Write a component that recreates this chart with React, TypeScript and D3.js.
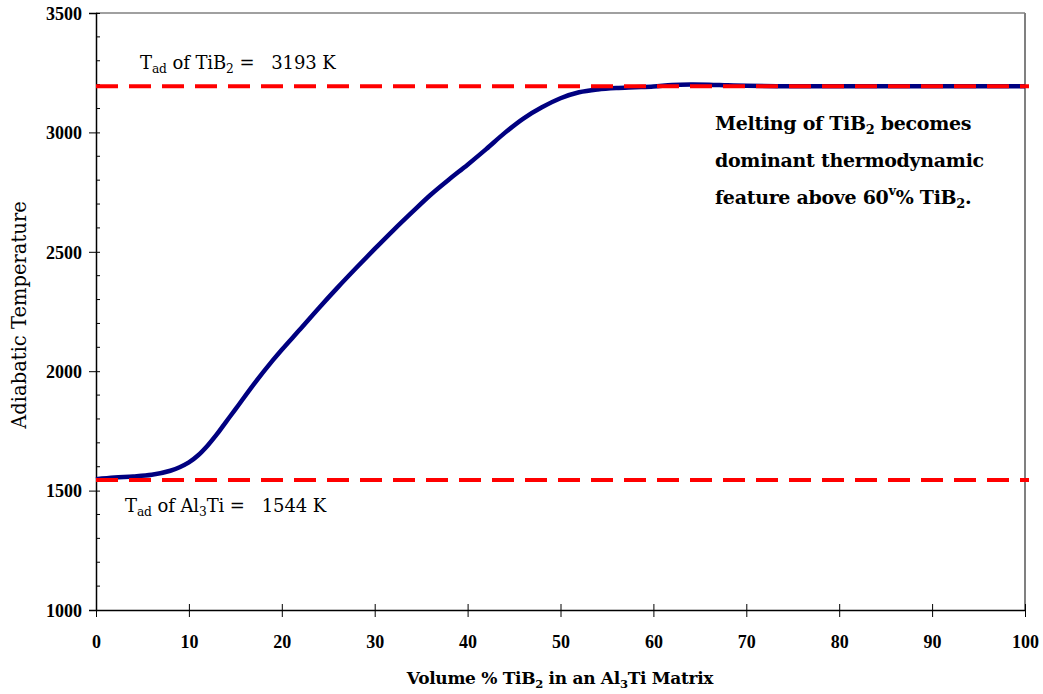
import React, { useEffect, useRef } from 'react';
import * as d3 from 'd3';

// volume % TiB2 vs adiabatic temperature (K)
const volumePct = [0, 2, 4, 6, 8, 9, 10, 11, 12, 13, 14, 15, 17, 19, 20, 22, 24, 26, 28, 30, 32, 34, 36, 38, 40, 42, 44, 46, 48, 50, 52, 54, 56, 58, 60, 62, 64, 66, 68, 70, 75, 80, 85, 90, 95, 100];
const adiabaticTemp = [1548, 1555, 1559, 1566, 1583, 1598, 1618, 1648, 1688, 1735, 1788, 1840, 1946, 2044, 2090, 2177, 2265, 2350, 2432, 2512, 2590, 2665, 2738, 2803, 2865, 2930, 2998, 3058, 3105, 3143, 3168, 3180, 3186, 3189, 3192, 3199, 3201, 3200, 3197, 3195, 3193, 3193, 3193, 3193, 3193, 3193];

const xTicks = [0, 10, 20, 30, 40, 50, 60, 70, 80, 90, 100];
const yTicks = [1000, 1500, 2000, 2500, 3000, 3500];
const yMinorTicks = d3.range(1000, 3501, 100).filter((v) => v % 500 !== 0);

const tadTiB2 = 3193;
const tadAl3Ti = 1544;

const TICK_FONT = '"Liberation Serif", "Times New Roman", serif';
const FONT = '"DejaVu Serif", serif';

function AdiabaticChart() {
    const ref = useRef<SVGSVGElement>(null);
    const width = 1043;
    const height = 694;
    const margin = { top: 13, right: 18, bottom: 84, left: 96 };

    useEffect(() => {
        const svg = d3.select(ref.current);
        svg.selectAll('*').remove();

        const x = d3.scaleLinear().domain([0, 100]).range([margin.left, width - margin.right]);
        const y = d3.scaleLinear().domain([1000, 3500]).range([height - margin.bottom, margin.top]);

        // frame: grey top/right, black axes
        svg.append('line')
            .attr('x1', x(0)).attr('x2', x(100))
            .attr('y1', y(3500)).attr('y2', y(3500))
            .attr('stroke', '#808080').attr('stroke-width', 1.5);
        svg.append('line')
            .attr('x1', x(100)).attr('x2', x(100))
            .attr('y1', y(3500)).attr('y2', y(1000))
            .attr('stroke', '#808080').attr('stroke-width', 2);

        // x axis
        const gx = svg.append('g')
            .attr('transform', `translate(0,${y(1000)})`)
            .call(d3.axisBottom(x).tickValues(xTicks).tickSize(0).tickPadding(0).tickFormat(d3.format('d')));
        gx.select('.domain').attr('stroke', '#000').attr('stroke-width', 1.5);
        gx.selectAll('.tick line').attr('y1', -6).attr('y2', 7).attr('stroke', '#000').attr('stroke-width', 1);
        gx.selectAll('.tick text')
            .attr('y', 38).attr('dy', null)
            .attr('font-family', TICK_FONT).attr('font-size', 18).attr('font-weight', 'bold')
            .attr('fill', '#000');

        // y axis
        const gy = svg.append('g')
            .attr('transform', `translate(${x(0)},0)`)
            .call(d3.axisLeft(y).tickValues(yTicks).tickSize(7).tickPadding(0).tickFormat(d3.format('d')));
        gy.select('.domain').attr('stroke', '#000').attr('stroke-width', 1.5);
        gy.selectAll('.tick line').attr('x2', -7).attr('x1', 4).attr('stroke', '#000').attr('stroke-width', 1);
        gy.selectAll('.tick text')
            .attr('x', -14).attr('dy', '0.35em')
            .attr('font-family', TICK_FONT).attr('font-size', 18).attr('font-weight', 'bold')
            .attr('fill', '#000');

        // minor ticks inside
        svg.append('g')
            .selectAll('line')
            .data(yMinorTicks)
            .join('line')
            .attr('x1', x(0)).attr('x2', x(0) + 4)
            .attr('y1', (d) => y(d)).attr('y2', (d) => y(d))
            .attr('stroke', '#000').attr('stroke-width', 1);

        // curve
        const line = d3.line<number>()
            .x((d, i) => x(volumePct[i]))
            .y((d) => y(d))
            .curve(d3.curveCatmullRom.alpha(0.5));

        svg.append('path')
            .datum(adiabaticTemp)
            .attr('d', line)
            .attr('fill', 'none')
            .attr('stroke', '#000080')
            .attr('stroke-width', 4.5)
            .attr('stroke-linejoin', 'round');

        // reference lines
        [tadTiB2, tadAl3Ti].forEach((t) => {
            svg.append('line')
                .attr('x1', x(0)).attr('x2', x(100) + 4)
                .attr('y1', y(t)).attr('y2', y(t))
                .attr('stroke', '#ff0000')
                .attr('stroke-width', 4)
                .attr('stroke-dasharray', '22,11');
        });
    }, []);

    const sub = { fontSize: '0.68em' } as React.CSSProperties;

    return (
        <svg
            width={width}
            height={height}
            style={{ position: 'absolute', left: 0, top: 0, background: '#fff' }}
        >
            <g ref={ref} />
            <g fontFamily={FONT} fill="#000">
                <text x={140} y={69} fontSize={18} letterSpacing={-0.1}>
                    T<tspan dy={4} style={sub}>ad</tspan>
                    <tspan dy={-4}> of TiB</tspan>
                    <tspan dy={4} style={sub}>2</tspan>
                    <tspan dy={-4}>{' =\u00a0\u00a0 3193 K'}</tspan>
                </text>
                <text x={125} y={512} fontSize={18} letterSpacing={-0.1}>
                    T<tspan dy={4} style={sub}>ad</tspan>
                    <tspan dy={-4}> of Al</tspan>
                    <tspan dy={4} style={sub}>3</tspan>
                    <tspan dy={-4}>{'Ti =\u00a0\u00a0 1544 K'}</tspan>
                </text>
                <g fontSize={19} fontWeight="bold" letterSpacing={-0.3}>
                    <text x={715} y={130}>
                        Melting of TiB<tspan dy={4} style={sub}>2</tspan>
                        <tspan dy={-4}> becomes</tspan>
                    </text>
                    <text x={715} y={167}>dominant thermodynamic</text>
                    <text x={715} y={204}>
                        feature above 60<tspan dy={-9} style={sub}>v</tspan>
                        <tspan dy={9}>% TiB</tspan>
                        <tspan dy={4} style={sub}>2</tspan>
                        <tspan dy={-4}>.</tspan>
                    </text>
                </g>
                <text
                    transform="translate(26,315) rotate(-90)"
                    textAnchor="middle"
                    fontSize={19.5}
                >
                    Adiabatic Temperature
                </text>
                <text x={560} y={684} textAnchor="middle" fontSize={17} fontWeight="bold" letterSpacing={-0.3}>
                    Volume % TiB<tspan dy={4} style={sub}>2</tspan>
                    <tspan dy={-4}> in an Al</tspan>
                    <tspan dy={4} style={sub}>3</tspan>
                    <tspan dy={-4}>Ti Matrix</tspan>
                </text>
            </g>
        </svg>
    );
}

export default function App() {
    return <AdiabaticChart />;
}
